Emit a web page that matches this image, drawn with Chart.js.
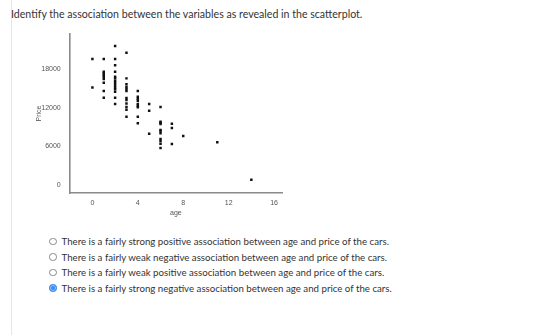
<!DOCTYPE html>
<html>
<head>
<meta charset="utf-8">
<script src="https://cdn.jsdelivr.net/npm/chart.js@4.4.1/dist/chart.umd.min.js"></script>
<style>
  html, body { margin: 0; padding: 0; background: #fff; }
  body { width: 560px; height: 335px; position: relative; overflow: hidden; font-family: Lato, sans-serif; color: #333; }
  .edge { position: absolute; left: 11px; top: 0; width: 1px; height: 335px; background: #e6e6e6; }
  .prompt { position: absolute; left: 11px; top: 8px; font-size: 10.6px; white-space: nowrap; }
  #wrap { position: absolute; left: 0; top: 0; width: 300px; height: 230px; }
  .opts { position: absolute; left: 49px; top: 235px; font-size: 9.7px; }
  .opt { height: 15.5px; line-height: 12px; white-space: nowrap; }
  .dot { display: inline-block; width: 5.5px; height: 5.5px; border: 1px solid #888; border-radius: 50%; vertical-align: 0px; margin-right: 5px; box-sizing: content-box; }
  .dot.on { border-color: #2f86ee; background: #3b8ff2; box-shadow: inset 0 0 0 1px #8fc0fa; }
</style>
</head>
<body>
<div class="edge"></div>
<div class="prompt">Identify the association between the variables as revealed in the scatterplot.</div>
<div id="wrap"><canvas id="chart"></canvas></div>
<div class="opts" id="opts"></div>
<script>
const ages = [
  0, 0,
  1, 1, 1, 1, 1, 1, 1, 1, 1,
  2, 2, 2, 2, 2, 2, 2, 2, 2, 2, 2, 2, 2, 2,
  3, 3, 3, 3, 3, 3, 3, 3, 3, 3, 3, 3,
  4, 4, 4, 4, 4, 4, 4, 4, 4,
  5, 5, 5,
  6, 6, 6, 6, 6, 6, 6, 6, 6, 6, 6,
  7, 7, 7,
  8,
  11,
  14
];
const prices = [
  19590, 15140,
  19590, 17610, 17360, 17100, 16830, 16470, 15900, 14600, 13560,
  21620, 19590, 18610, 17610, 16830, 16580, 16210, 15900, 15540, 15180, 14870, 14490, 13560, 12580,
  20570, 16580, 15650, 15230, 14910, 14600, 13510, 13200, 12650, 12110, 11690, 10600,
  14600, 13720, 13400, 13090, 12580, 12310, 12060, 10600, 9570,
  12580, 11530, 7950,
  12110, 9820, 9660, 9460, 8520, 8370, 8010, 7120, 6810, 6390, 5720,
  9510, 8840, 6340,
  7590,
  6610,
  780
];
const xTicks = [0, 4, 8, 12, 16];
const yTicks = [0, 6000, 12000, 18000];

const choices = [
  "There is a fairly strong positive association between age and price of the cars.",
  "There is a fairly weak negative association between age and price of the cars.",
  "There is a fairly weak positive association between age and price of the cars.",
  "There is a fairly strong negative association between age and price of the cars."
];
const picked = 3;

const opts = document.getElementById("opts");
choices.forEach((c, i) => {
  const row = document.createElement("div");
  row.className = "opt";
  row.innerHTML = '<span class="dot' + (i === picked ? ' on' : '') + '"></span>' + c;
  opts.appendChild(row);
});

const tickFont = { family: "Liberation Sans, Arial, sans-serif", size: 7 };

new Chart(document.getElementById("chart"), {
  type: "scatter",
  data: {
    datasets: [{
      data: ages.map((a, i) => ({ x: a, y: prices[i] })),
      backgroundColor: "#111",
      borderWidth: 0,
      pointStyle: "rect",
      pointRadius: 1.75,
    }],
  },
  options: {
    responsive: true,
    maintainAspectRatio: false,
    animation: false,
    events: [],
    layout: { padding: { top: 34, right: 18, left: 0, bottom: 0 } },
    plugins: { legend: { display: false }, tooltip: { enabled: false } },
    scales: {
      x: {
        type: "linear",
        min: -2,
        max: 16.7,
        afterBuildTicks: (s) => { s.ticks = xTicks.map((v) => ({ value: v })); },
        afterFit: (s) => { s.height = 37; },
        grid: { display: false, drawTicks: false },
        border: { display: true, color: "#8a8a8a", width: 1.6 },
        ticks: { color: "#555", font: tickFont, padding: 6, maxRotation: 0, callback: (v) => String(v) },
        title: { display: true, text: "age", color: "#555", font: tickFont, padding: { top: 0, bottom: 13 } },
      },
      y: {
        type: "linear",
        min: -1300,
        max: 23500,
        afterBuildTicks: (s) => { s.ticks = yTicks.map((v) => ({ value: v })); },
        afterFit: (s) => { s.width = 69.7; },
        grid: { display: false, drawTicks: false },
        border: { display: true, color: "#8a8a8a", width: 1.6 },
        ticks: { color: "#555", font: tickFont, padding: 9, callback: (v) => String(v) },
        title: { display: true, text: "Price", color: "#555", font: tickFont, padding: { top: 35, bottom: 0 } },
      },
    },
  },
});
</script>
</body>
</html>
